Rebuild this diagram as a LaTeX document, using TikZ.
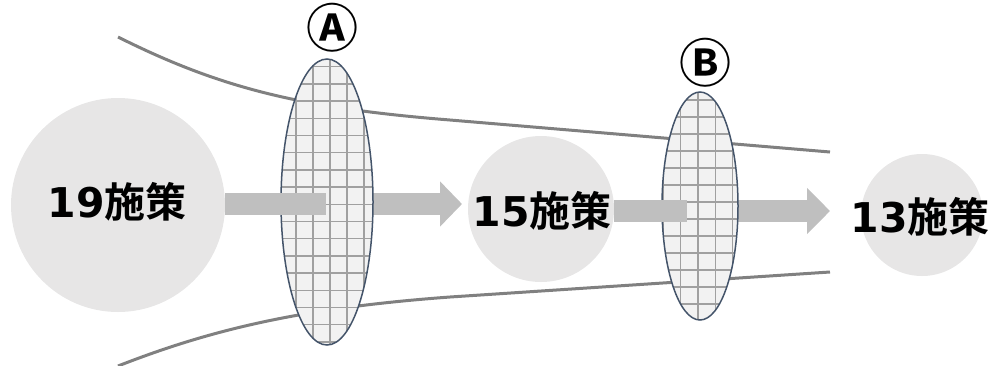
\documentclass[tikz,border=0pt]{standalone}
\usepackage{fontspec}
\usetikzlibrary{shapes.geometric,arrows.meta,positioning}

\newfontfamily\jpfont{Noto Sans CJK JP}[BoldFont={Noto Sans CJK JP Bold}]
\newfontfamily\numfont{DejaVu Sans}[BoldFont={DejaVu Sans Bold}]

\definecolor{circlegray}{HTML}{E7E6E6}
\definecolor{bargray}{HTML}{BFBFBF}
\definecolor{curvegray}{HTML}{808080}
\definecolor{meshgray}{HTML}{A0A0A0}
\definecolor{meshfill}{HTML}{F2F2F2}
\definecolor{rimblue}{HTML}{44546A}

\newcommand{\stagetext}[1]{{\numfont\bfseries #1}施策}

\tikzset{
  stage/.style={circle, fill=circlegray, inner sep=0pt},
  stage label/.style={inner sep=0pt, font=\jpfont\bfseries\fontsize{41pt}{41pt}\selectfont},
  bar/.style={bargray, line width=22pt},
  funnel/.style={curvegray, line width=3pt},
  gridline/.style={meshgray, line width=1.4pt},
  sieve/.style={ellipse, draw=rimblue, line width=1.5pt, inner sep=0pt},
  mark label/.style={font=\jpfont\bfseries\fontsize{52pt}{52pt}\selectfont, inner sep=0pt}
}

\begin{document}
\begin{tikzpicture}[x=1pt, y=-1pt]

    \useasboundingbox (0,0) rectangle (995,365);

    % funnel outline
    \draw[funnel] (118,37) .. controls (220,88) and (300,108) .. (450,120) -- (830,152);
    \draw[funnel] (118,366) .. controls (210,330) and (300,308) .. (450,297) -- (830,272);

    % stages
    \node[stage, minimum size=214pt] (c19) at (118,205) {};
    \node[stage, minimum size=146pt] (c15) at (541,209) {};
    \node[stage, minimum size=122pt] (c13) at (922,215) {};

    \node[stage label] (t19) at (117,202) {\stagetext{19}};
    \node[stage label] (t15) at (542,211) {\stagetext{15}};
    \node[stage label] (t13) at (920,217) {\stagetext{13}};

    \coordinate (midA) at (326,204);
    \coordinate (midB) at (687,211);
    \coordinate (tip1) at (462,204);
    \coordinate (tip2) at (830,211);

    % arrows behind the sieves
    \draw[bar, -{Triangle[length=22pt, width=44pt]}] (midA) -- (tip1);
    \draw[bar, -{Triangle[length=23pt, width=45pt]}] (midB) -- (tip2);

    % sieve A
    \fill[meshfill] (327,202) ellipse [x radius=46, y radius=143];
    \begin{scope}
      \clip (327,202) ellipse [x radius=46, y radius=143];
      \foreach \gx in {279,296,...,380} \draw[gridline] (\gx,55) -- (\gx,350);
      \foreach \gy in {66.7,83.9,...,350} \draw[gridline] (275,\gy) -- (380,\gy);
    \end{scope}
    \node[sieve, minimum width=92pt, minimum height=286pt] (selA) at (327,202) {};

    % sieve B
    \fill[meshfill] (700,206) ellipse [x radius=38, y radius=114];
    \begin{scope}
      \clip (700,206) ellipse [x radius=38, y radius=114];
      \foreach \gx in {663,680.4,...,745} \draw[gridline] (\gx,88) -- (\gx,325);
      \foreach \gy in {83,100,...,330} \draw[gridline] (655,\gy) -- (745,\gy);
    \end{scope}
    \node[sieve, minimum width=76pt, minimum height=228pt] (selB) at (700,206) {};

    % bars in front
    \draw[bar] (c19.east |- midA) -- (midA);
    \draw[bar] (c15.east |- midB) -- (midB);

    \node[mark label] (labA) at (332,28) {Ⓐ};
    \node[mark label] (labB) at (705,63) {Ⓑ};

\end{tikzpicture}
\end{document}
